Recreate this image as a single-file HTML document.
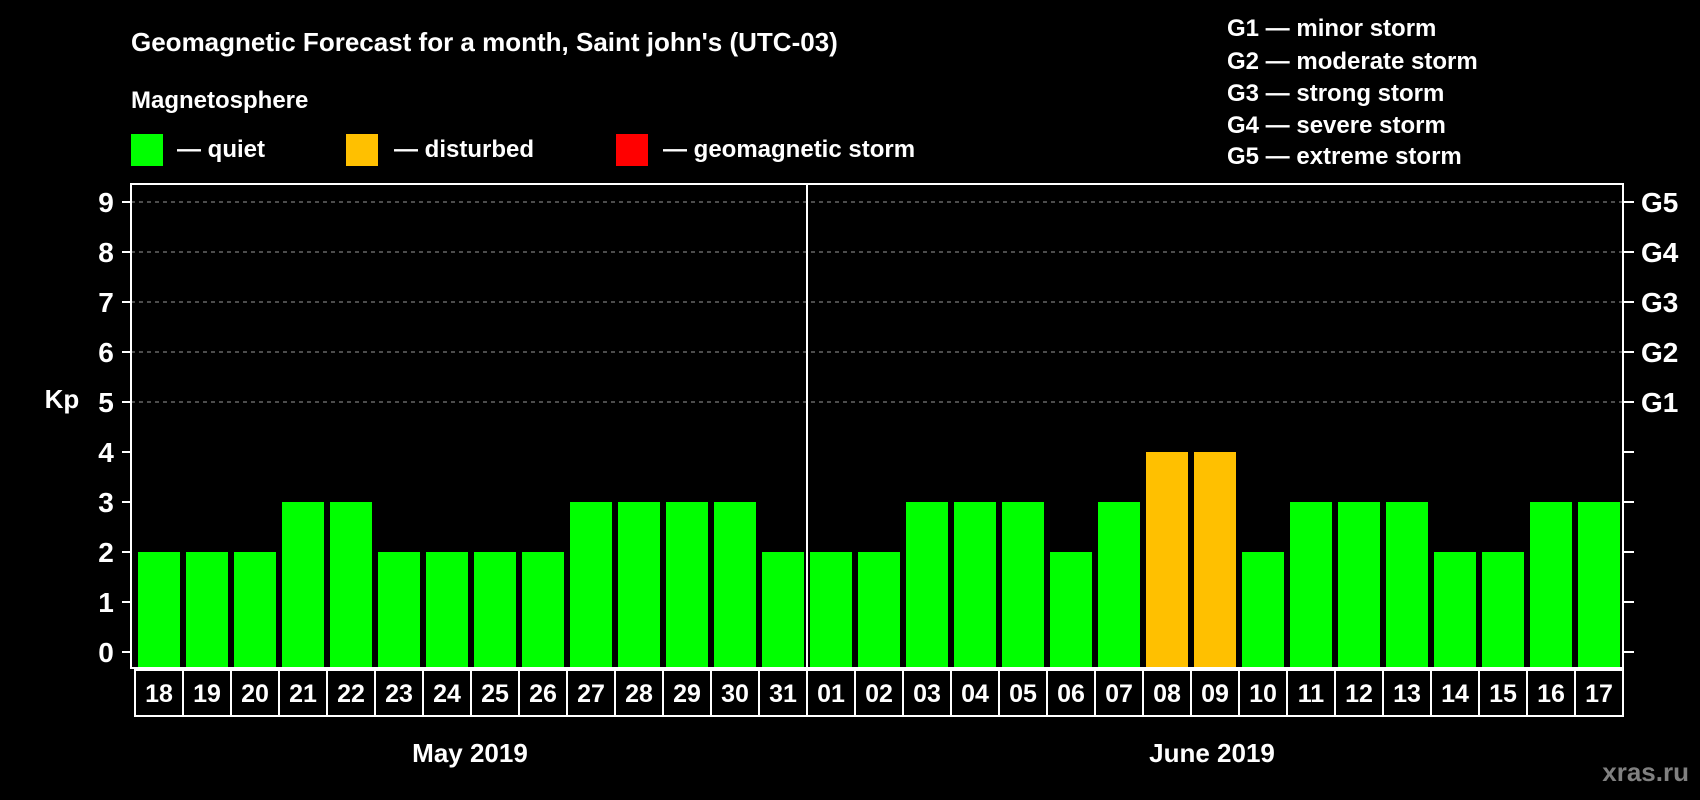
<!DOCTYPE html>
<html><head><meta charset="utf-8"><style>
body{margin:0;background:#000;}
svg{display:block;font-family:"Liberation Sans",Arial,sans-serif;font-weight:bold;}
</style></head><body>
<svg id="chart" width="1700" height="800" viewBox="0 0 1700 800">
<rect width="1700" height="800" fill="#000"/>
<text x="131" y="51" fill="#fff" font-size="26">Geomagnetic Forecast for a month, Saint john's (UTC-03)</text>
<text x="131" y="108" fill="#fff" font-size="24">Magnetosphere</text>
<g><rect x="131" y="134" width="32" height="32" fill="#00ff00"/><text x="177" y="157" fill="#fff" font-size="24">— quiet</text></g>
<g><rect x="346" y="134" width="32" height="32" fill="#ffc000"/><text x="394" y="157" fill="#fff" font-size="24">— disturbed</text></g>
<g><rect x="616" y="134" width="32" height="32" fill="#ff0000"/><text x="663" y="157" fill="#fff" font-size="24">— geomagnetic storm</text></g>
<g fill="#fff" font-size="24">
<text x="1227" y="36">G1 — minor storm</text>
<text x="1227" y="69">G2 — moderate storm</text>
<text x="1227" y="101">G3 — strong storm</text>
<text x="1227" y="133">G4 — severe storm</text>
<text x="1227" y="164">G5 — extreme storm</text>
</g>
<text x="62" y="408" fill="#fff" font-size="26" text-anchor="middle">Kp</text>
<g id="grid"></g>
<g id="bars"></g>
<g id="axes"></g>
<text x="470" y="762" fill="#fff" font-size="26" text-anchor="middle">May 2019</text>
<text x="1212" y="762" fill="#fff" font-size="26" text-anchor="middle">June 2019</text>
<text x="1689" y="781" fill="#808080" font-size="26" text-anchor="end">xras.ru</text>
</svg>
<script>
const days = ["18","19","20","21","22","23","24","25","26","27","28","29","30","31","01","02","03","04","05","06","07","08","09","10","11","12","13","14","15","16","17"];
const kpValues = [2,2,2,3,3,2,2,2,2,3,3,3,3,2,2,2,3,3,3,2,3,4,4,2,3,3,3,2,2,3,3];
const yTicks = [0,1,2,3,4,5,6,7,8,9];
const gLabels = ["","","","","","G1","G2","G3","G4","G5"];
const NS="http://www.w3.org/2000/svg";
const L=131,R=1623,T=184,B=668;
const y=v=>652-50*v;
const x0=138,pitch=48,bw=42;
const x=i=>x0+i*pitch;
function mk(tag,attrs,parent){const e=document.createElementNS(NS,tag);for(const k in attrs)e.setAttribute(k,attrs[k]);parent.appendChild(e);return e;}
const grid=document.getElementById('grid'),bars=document.getElementById('bars'),axes=document.getElementById('axes');
yTicks.forEach((v,i)=>{
  if(v>=5){const g=mk('line',{x1:L,x2:R,y1:y(v),y2:y(v),stroke:'#999','stroke-dasharray':'4,4','stroke-width':1},grid);
  
  }
  const t1=mk('line',{x1:122,x2:L,y1:y(v),y2:y(v),stroke:'#fff','stroke-width':2},axes);
  
  
  const t2=mk('line',{x1:R,x2:1634,y1:y(v),y2:y(v),stroke:'#fff','stroke-width':2},axes);
  
  
  const lb=mk('text',{x:106,y:y(v)+10,fill:'#fff','font-size':28,'text-anchor':'middle'},axes);lb.textContent=v;
  
  
  if(gLabels[i]){const gl=mk('text',{x:1641,y:y(v)+10,fill:'#fff','font-size':28},axes);gl.textContent=gLabels[i];
  
  }
});
kpValues.forEach((v,i)=>{
  const r=mk('rect',{x:x(i),y:y(v),width:bw,height:B-y(v),fill:v>=5?'#ff0000':(v>=4?'#ffc000':'#00ff00')},bars);
  
  
  const bx=mk('rect',{x:x(i)-3,y:B+2,width:pitch,height:46,fill:'none',stroke:'#fff','stroke-width':2},axes);
  
  
  const t=mk('text',{x:x(i)+bw/2,y:B+34,fill:'#fff','font-size':25,'text-anchor':'middle'},axes);t.textContent=days[i];
  
  
});
const fr=mk('rect',{x:L,y:T,width:R-L,height:B-T,fill:'none',stroke:'#fff','stroke-width':2},axes);


const sep=mk('line',{x1:x(14)-3,x2:x(14)-3,y1:T,y2:B,stroke:'#fff','stroke-width':2},axes);


</script>
</body></html>
